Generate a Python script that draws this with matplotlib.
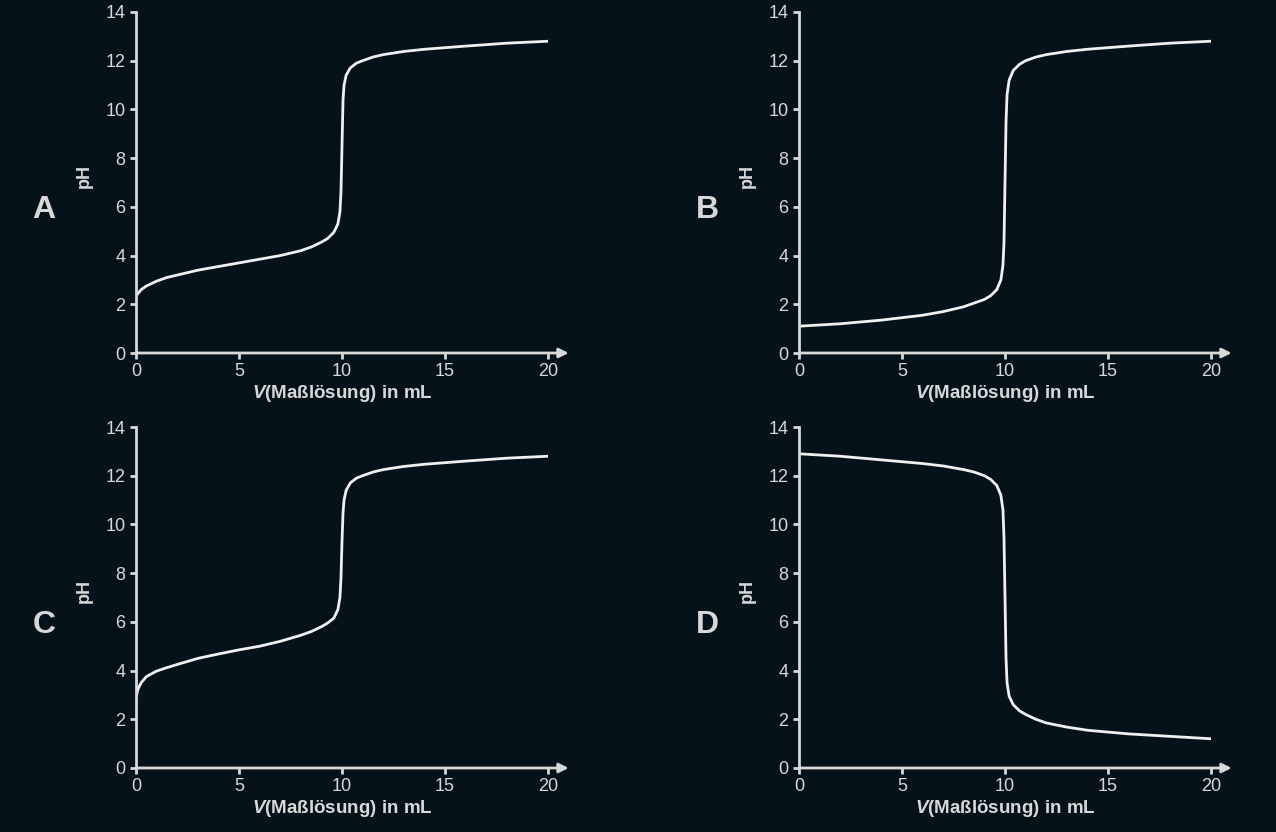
import matplotlib.pyplot as plt

plt.rcParams['font.family'] = ['Liberation Sans', 'DejaVu Sans']
plt.rcParams['mathtext.fontset'] = 'custom'
plt.rcParams['mathtext.bfit'] = 'Liberation Sans:bold:italic'

# volume (mL) / pH points
xa = [0, 0.25, 0.5, 1, 1.5, 2, 3, 4, 5, 6, 7, 8, 8.5, 9, 9.3, 9.6, 9.8, 9.9, 9.95, 10, 10.05, 10.1, 10.2, 10.4, 10.7, 11, 11.5, 12, 13, 14, 16, 18, 20]
ya = [2.35, 2.6, 2.75, 2.95, 3.1, 3.2, 3.4, 3.55, 3.7, 3.85, 4.0, 4.2, 4.35, 4.55, 4.7, 4.95, 5.3, 5.8, 6.6, 8.5, 10.4, 11.0, 11.4, 11.7, 11.9, 12.0, 12.15, 12.25, 12.38, 12.47, 12.6, 12.72, 12.8]
xb = [0, 2, 4, 6, 7, 8, 8.5, 9, 9.3, 9.6, 9.8, 9.9, 9.95, 10, 10.05, 10.1, 10.2, 10.4, 10.7, 11, 11.5, 12, 13, 14, 16, 18, 20]
yb = [1.1, 1.2, 1.35, 1.55, 1.7, 1.9, 2.05, 2.2, 2.35, 2.6, 3.0, 3.6, 4.5, 7.0, 9.5, 10.6, 11.2, 11.6, 11.85, 12.0, 12.15, 12.25, 12.38, 12.47, 12.6, 12.72, 12.8]
xc = [0, 0.1, 0.25, 0.5, 1, 1.5, 2, 3, 4, 5, 6, 7, 8, 8.5, 9, 9.3, 9.6, 9.8, 9.9, 9.95, 10, 10.05, 10.1, 10.2, 10.4, 10.7, 11, 11.5, 12, 13, 14, 16, 18, 20]
yc = [2.9, 3.25, 3.5, 3.75, 3.98, 4.12, 4.25, 4.5, 4.68, 4.85, 5.0, 5.2, 5.45, 5.6, 5.8, 5.95, 6.15, 6.5, 7.0, 7.8, 9.3, 10.5, 11.0, 11.4, 11.7, 11.9, 12.0, 12.15, 12.25, 12.38, 12.47, 12.6, 12.72, 12.8]
xd = [0, 2, 4, 6, 7, 8, 8.5, 9, 9.3, 9.6, 9.8, 9.9, 9.95, 10, 10.05, 10.1, 10.2, 10.4, 10.7, 11, 11.5, 12, 13, 14, 16, 18, 20]
yd = [12.9, 12.8, 12.65, 12.5, 12.4, 12.25, 12.15, 12.0, 11.85, 11.6, 11.2, 10.6, 9.5, 7.0, 4.5, 3.5, 2.95, 2.6, 2.35, 2.2, 2.0, 1.85, 1.68, 1.55, 1.4, 1.3, 1.2]

panels = [("A", xa, ya), ("B", xb, yb), ("C", xc, yc), ("D", xd, yd)]
xticks = [0, 5, 10, 15, 20]
yticks = [0, 2, 4, 6, 8, 10, 12, 14]

bg = "#06121a"
fg = "#d8d8d8"

fig = plt.figure(figsize=(12.76, 8.32), dpi=100, facecolor=bg)
lefts = [136 / 1276, 799 / 1276]
bottoms = [1 - 353 / 832, 1 - 768 / 832]
w = (548 - 136) / 1276
h = (353 - 12) / 832

for i, (letter, x, y) in enumerate(panels):
    l = lefts[i % 2]
    b = bottoms[i // 2]
    ax = fig.add_axes([l, b, w, h], facecolor=bg)
    ax.plot(x, y, color="#f0f0f0", lw=2.0, solid_capstyle="round", solid_joinstyle="round")
    ax.set_xlim(0, 20)
    ax.set_ylim(0, 14)
    ax.set_xticks(xticks)
    ax.set_yticks(yticks)
    for s in ["top", "right", "bottom"]:
        ax.spines[s].set_visible(False)
    ax.spines["left"].set_color(fg)
    ax.spines["left"].set_linewidth(2)
    ax.annotate("", xy=(21.0, 0), xytext=(0, 0), xycoords="data",
                arrowprops=dict(arrowstyle="-|>", color=fg, lw=2,
                                mutation_scale=14, shrinkA=0, shrinkB=0),
                annotation_clip=False)
    ax.tick_params(colors=fg, labelcolor=fg, labelsize=13, width=2, length=4)
    ax.set_ylabel("pH", color=fg, fontsize=13, fontweight="bold")
    ax.yaxis.set_label_coords(-0.105, 0.52)
    ax.set_xlabel(r"$\mathbfit{V}$(Maßlösung) in mL", color=fg, fontsize=13.5,
                  fontweight="bold", labelpad=2)
    fig.text(l - 92 / 1276, b + h * 0.42, letter, color=fg, fontsize=23,
             fontweight="bold", ha="center", va="center")

fig.savefig("out.png", dpi=100, facecolor=bg)
